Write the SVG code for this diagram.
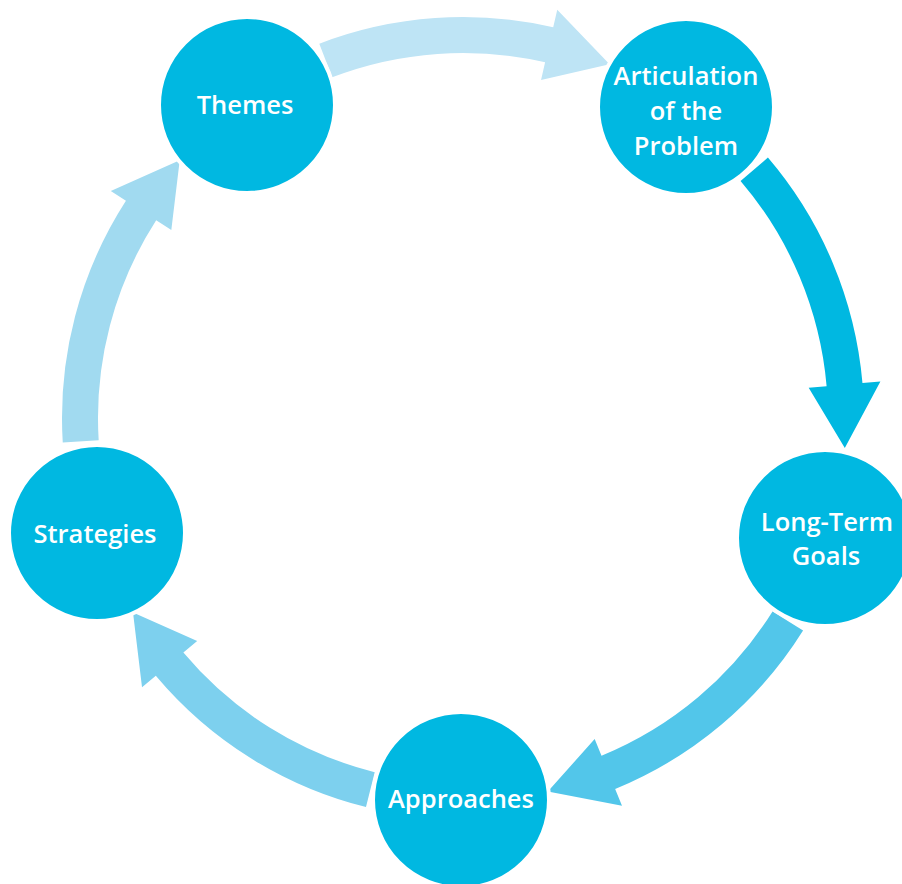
<svg xmlns="http://www.w3.org/2000/svg" width="902" height="884" viewBox="0 0 902 884">
<style>
.node{fill:#00B8E1;stroke:#ffffff;stroke-width:4}
.lbl{font-family:"Open Sans","Liberation Sans",sans-serif;font-weight:600;font-size:25.5px;fill:#ffffff;text-anchor:middle}
</style>
<rect width="902" height="884" fill="#ffffff"/>
<g id="connectors">
<path id="a1" fill="#BEE4F5" d="M319.29,43.63 A401,401 0 0 1 553.21,27.28 L557.25,9.74 L609.57,64.15 L541.06,79.89 L545.11,62.35 A365,365 0 0 0 332.20,77.24 Z"/>
<path id="a2" fill="#00B8E1" d="M767.92,157.57 A401,401 0 0 1 862.47,383.05 L880.40,381.48 L844.82,448.05 L808.68,387.76 L826.61,386.19 A365,365 0 0 0 740.55,180.95 Z"/>
<path id="a3" fill="#52C6EA" d="M803.07,630.50 A401,401 0 0 1 615.16,789.01 L621.99,805.66 L547.85,791.48 L594.67,739.05 L601.50,755.70 A365,365 0 0 0 772.54,611.42 Z"/>
<path id="a4" fill="#7DD0EE" d="M365.99,807.09 A401,401 0 0 1 155.82,675.76 L142.03,687.33 L133.00,612.39 L197.18,641.05 L183.39,652.62 A365,365 0 0 0 374.70,772.16 Z"/>
<path id="a5" fill="#A1DAF0" d="M62.75,442.48 A401,401 0 0 1 125.93,200.77 L110.80,191.02 L179.72,160.24 L171.32,230.03 L156.19,220.28 A365,365 0 0 0 98.68,440.28 Z"/>
</g>
<g id="themes">
<circle class="node" cx="247" cy="105" r="88"/>
<text class="lbl" x="245" y="114">Themes</text>
</g>
<g id="articulation">
<circle class="node" cx="686" cy="107" r="88"/>
<text class="lbl" x="686" y="85">Articulation</text>
<text class="lbl" x="686" y="120">of the</text>
<text class="lbl" x="686" y="155">Problem</text>
</g>
<g id="longterm">
<circle class="node" cx="825" cy="538" r="88"/>
<text class="lbl" x="827" y="531">Long-Term</text>
<text class="lbl" x="826" y="565">Goals</text>
</g>
<g id="approaches">
<circle class="node" cx="461" cy="800" r="88"/>
<text class="lbl" x="461" y="808">Approaches</text>
</g>
<g id="strategies">
<circle class="node" cx="97" cy="533" r="88"/>
<text class="lbl" x="95" y="543">Strategies</text>
</g>
</svg>
